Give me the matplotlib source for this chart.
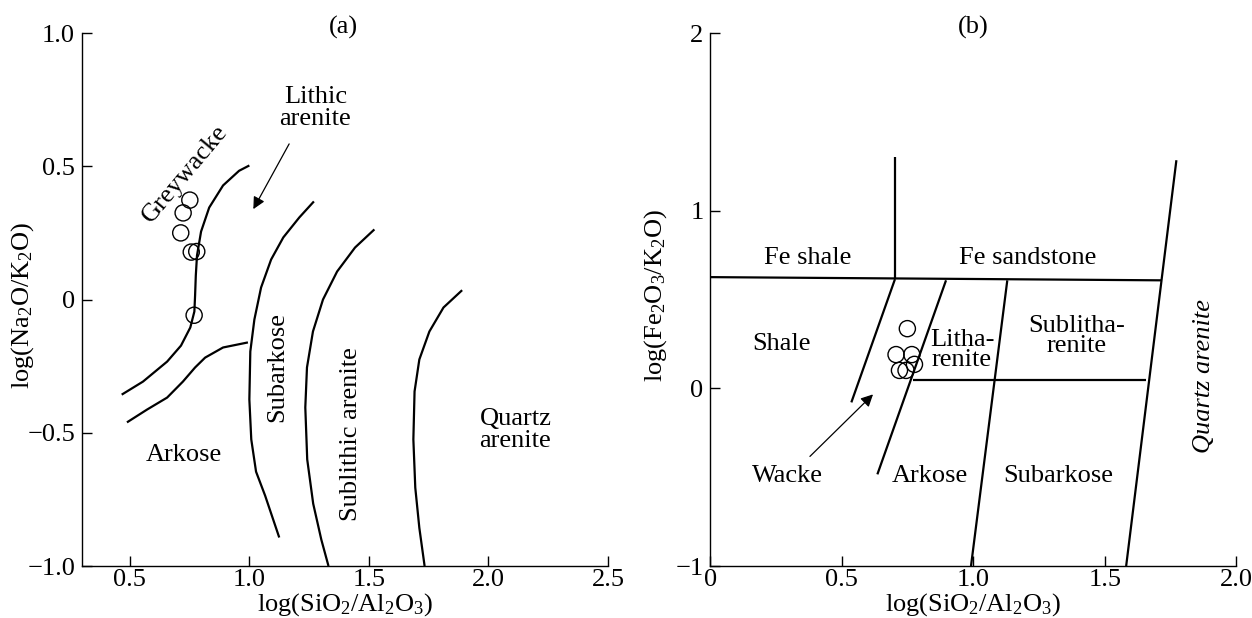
import matplotlib
matplotlib.use("Agg")
import matplotlib.pyplot as plt

plt.rcParams['font.family'] = ['Liberation Serif', 'DejaVu Serif']
plt.rcParams['mathtext.fontset'] = 'custom'
plt.rcParams['mathtext.rm'] = 'Liberation Serif'
plt.rcParams['mathtext.it'] = 'Liberation Serif:italic'
plt.rcParams['font.size'] = 19

FS = 19     # text size
TFS = 19    # tick label size

# ---------------- Panel (a) data ----------------
a_greywacke_x = [0.466, 0.555, 0.656, 0.714, 0.753, 0.770, 0.773, 0.776, 0.781, 0.798, 0.832, 0.890, 0.957, 1.000]
a_greywacke_y = [-0.357, -0.308, -0.233, -0.173, -0.105, -0.045, 0.015, 0.090, 0.165, 0.255, 0.345, 0.428, 0.483, 0.503]
a_arkose_x = [0.488, 0.572, 0.656, 0.722, 0.773, 0.815, 0.890, 0.994]
a_arkose_y = [-0.461, -0.413, -0.368, -0.308, -0.255, -0.218, -0.180, -0.161]
a_subarkose_x = [1.270, 1.209, 1.142, 1.091, 1.049, 1.021, 1.004, 1.000, 1.008, 1.028, 1.066, 1.125]
a_subarkose_y = [0.368, 0.308, 0.233, 0.150, 0.045, -0.075, -0.195, -0.375, -0.525, -0.646, -0.736, -0.893]
a_sublithic_x = [1.523, 1.442, 1.367, 1.308, 1.266, 1.241, 1.234, 1.242, 1.267, 1.301, 1.331]
a_sublithic_y = [0.263, 0.195, 0.105, 0.000, -0.120, -0.255, -0.405, -0.600, -0.766, -0.901, -1.000]
a_quartz_x = [1.890, 1.812, 1.753, 1.711, 1.691, 1.686, 1.694, 1.711, 1.733]
a_quartz_y = [0.035, -0.030, -0.120, -0.225, -0.345, -0.525, -0.706, -0.857, -1.000]
a_samples_x = [0.751, 0.723, 0.713, 0.757, 0.780, 0.769]
a_samples_y = [0.373, 0.325, 0.250, 0.178, 0.180, -0.059]
a_xticks = [0.5, 1.0, 1.5, 2.0, 2.5]
a_xticklabels = ['0.5', '1.0', '1.5', '2.0', '2.5']
a_yticks = [-1.0, -0.5, 0, 0.5, 1.0]
a_yticklabels = ['\u22121.0', '\u22120.5', '0', '0.5', '1.0']

# ---------------- Panel (b) data ----------------
b_lines = [
    ([0.0, 1.715], [0.626, 0.608]),     # Fe boundary
    ([0.702, 0.702], [1.300, 0.618]),   # Fe shale / Fe sandstone
    ([0.702, 0.536], [0.615, -0.079]),  # Shale / Wacke
    ([0.896, 0.635], [0.608, -0.484]),  # Wacke / Litharenite-Arkose
    ([1.129, 0.991], [0.608, -1.000]),  # Litharenite / Sublitharenite
    ([0.772, 1.658], [0.045, 0.045]),   # Lithic / arkosic
    ([1.772, 1.581], [1.284, -1.000]),  # Quartz arenite
]
b_samples_x = [0.749, 0.706, 0.766, 0.776, 0.719, 0.744]
b_samples_y = [0.336, 0.190, 0.190, 0.135, 0.101, 0.101]
b_xticks = [0, 0.5, 1.0, 1.5, 2.0]
b_xticklabels = ['0', '0.5', '1.0', '1.5', '2.0']
b_yticks = [-1, 0, 1, 2]
b_yticklabels = ['\u22121', '0', '1', '2']

fig = plt.figure(figsize=(12.52, 6.18), dpi=100)
axa = fig.add_axes([0.0655, 0.0841, 0.4201, 0.8625])
axb = fig.add_axes([0.5674, 0.0841, 0.4201, 0.8625])

lw = 1.6
for ax in (axa, axb):
    ax.spines['top'].set_visible(False)
    ax.spines['right'].set_visible(False)
    ax.spines['left'].set_linewidth(1.0)
    ax.spines['bottom'].set_linewidth(1.0)
    ax.tick_params(direction='in', length=7, width=1.0, labelsize=TFS)
    ax.tick_params(axis='x', pad=2)
    ax.tick_params(axis='y', pad=5)

# Panel a
for xs, ys in [(a_greywacke_x, a_greywacke_y), (a_arkose_x, a_arkose_y),
               (a_subarkose_x, a_subarkose_y), (a_sublithic_x, a_sublithic_y),
               (a_quartz_x, a_quartz_y)]:
    axa.plot(xs, ys, color='black', lw=lw, solid_capstyle='butt', solid_joinstyle='round')
axa.scatter(a_samples_x, a_samples_y, s=135, facecolors='none', edgecolors='black', linewidths=1.0, zorder=3)
axa.set_xlim(0.3, 2.5)
axa.set_ylim(-1.0, 1.0)
axa.set_xticks(a_xticks)
axa.set_xticklabels(a_xticklabels)
axa.set_yticks(a_yticks)
axa.set_yticklabels(a_yticklabels)
axa.set_xlabel('log(SiO$_2$/Al$_2$O$_3$)', fontsize=FS)
axa.set_ylabel('log(Na$_2$O/K$_2$O)', fontsize=FS)
axa.xaxis.set_label_coords(0.5, -0.047)
axa.yaxis.set_label_coords(-0.088, 0.49)
axa.annotate('', xy=(1.011, 0.33), xytext=(1.172, 0.593),
             arrowprops=dict(arrowstyle='-|>', color='black', lw=0.9, mutation_scale=18))
axa.text(1.393, 1.02, '(a)', ha='center', va='center', fontsize=FS)
axa.text(1.276, 0.72, 'Lithic\narenite', ha='center', va='center', fontsize=FS, linespacing=1.0)
axa.text(0.731, 0.473, 'Greywacke', ha='center', va='center', fontsize=FS, rotation=50)
axa.text(1.116, -0.255, 'Subarkose', ha='center', va='center', fontsize=FS, rotation=90)
axa.text(1.426, -0.503, 'Sublithic arenite', ha='center', va='center', fontsize=FS, rotation=90)
axa.text(2.113, -0.488, 'Quartz\narenite', ha='center', va='center', fontsize=FS, linespacing=1.0)
axa.text(0.726, -0.583, 'Arkose', ha='center', va='center', fontsize=FS)

# Panel b
for xs, ys in b_lines:
    axb.plot(xs, ys, color='black', lw=lw, solid_capstyle='butt')
axb.scatter(b_samples_x, b_samples_y, s=135, facecolors='none', edgecolors='black', linewidths=1.0, zorder=3)
axb.set_xlim(0, 2.0)
axb.set_ylim(-1, 2)
axb.set_xticks(b_xticks)
axb.set_xticklabels(b_xticklabels)
axb.set_yticks(b_yticks)
axb.set_yticklabels(b_yticklabels)
axb.set_xlabel('log(SiO$_2$/Al$_2$O$_3$)', fontsize=FS)
axb.set_ylabel('log(Fe$_2$O$_3$/K$_2$O)', fontsize=FS)
axb.xaxis.set_label_coords(0.5, -0.047)
axb.yaxis.set_label_coords(-0.078, 0.508)
axb.annotate('', xy=(0.626, -0.023), xytext=(0.371, -0.394),
             arrowprops=dict(arrowstyle='-|>', color='black', lw=0.9, mutation_scale=18))
axb.text(1.0, 2.03, '(b)', ha='center', va='center', fontsize=FS)
axb.text(0.371, 0.732, 'Fe shale', ha='center', va='center', fontsize=FS)
axb.text(1.208, 0.732, 'Fe sandstone', ha='center', va='center', fontsize=FS)
axb.text(0.272, 0.248, 'Shale', ha='center', va='center', fontsize=FS)
axb.text(0.957, 0.214, 'Litha-\nrenite', ha='center', va='center', fontsize=FS, linespacing=0.9)
axb.text(1.391, 0.293, 'Sublitha-\nrenite', ha='center', va='center', fontsize=FS, linespacing=0.9)
axb.text(1.878, 0.068, 'Quartz arenite', ha='center', va='center', fontsize=FS, rotation=90, style='italic')
axb.text(0.295, -0.495, 'Wacke', ha='center', va='center', fontsize=FS)
axb.text(0.836, -0.495, 'Arkose', ha='center', va='center', fontsize=FS)
axb.text(1.323, -0.495, 'Subarkose', ha='center', va='center', fontsize=FS)

fig.savefig('out.png', dpi=100)
